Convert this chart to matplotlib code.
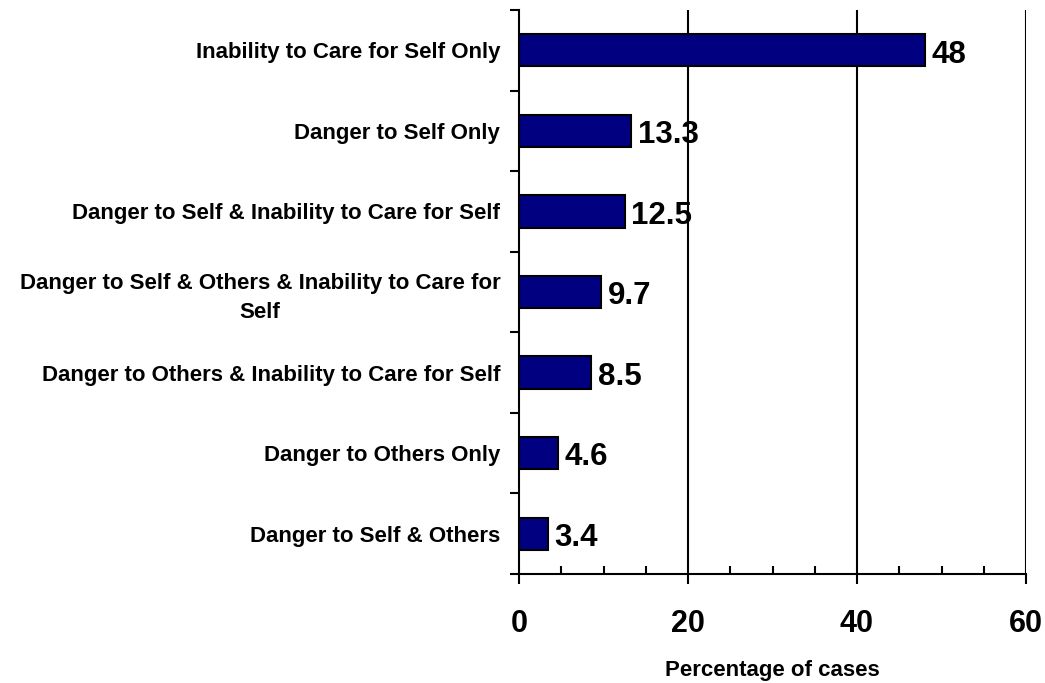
import matplotlib
matplotlib.use("Agg")
import matplotlib.pyplot as plt
import numpy as np

categories = [
    "Inability to Care for Self Only",
    "Danger to Self Only",
    "Danger to Self & Inability to Care for Self",
    "Danger to Self & Others & Inability to Care for\nSelf",
    "Danger to Others & Inability to Care for Self",
    "Danger to Others Only",
    "Danger to Self & Others",
]
values = [48, 13.3, 12.5, 9.7, 8.5, 4.6, 3.4]
value_labels = ["48", "13.3", "12.5", "9.7", "8.5", "4.6", "3.4"]
x_ticks = [0, 20, 40, 60]

plt.rcParams['font.family'] = ['Liberation Sans', 'DejaVu Sans']

fig = plt.figure(figsize=(10.45, 6.83), dpi=100)
ax = fig.add_axes([519/1045, 1-574/683, (1026-519)/1045, (574-10)/683])

n = len(categories)
ypos = np.arange(n)[::-1]

for g in x_ticks[1:]:
    ax.axvline(g, color='black', lw=1.5, zorder=1)

ax.barh(ypos, values, height=0.4, color='#000080', edgecolor='black', lw=1.5, zorder=2)

for y, v, t in zip(ypos, values, value_labels):
    ax.text(v + 0.8, y - 0.01, t, va='center_baseline', ha='left', fontsize=22.5,
            fontweight='bold', zorder=3)

ax.set_xlim(0, 60)
ax.set_ylim(-0.5, n - 0.5)

ax.set_yticks(ypos)
ax.set_yticklabels(categories, fontsize=16, fontweight='bold',
                   multialignment='center', linespacing=1.5)
ax.tick_params(axis='y', which='major', length=0, pad=13.5)
ax.set_yticks(np.arange(-0.5, n, 1.0), minor=True)
ax.tick_params(axis='y', which='minor', length=6.5, width=1.5, direction='out')

ax.set_xticks(x_ticks)
ax.set_xticklabels([str(t) for t in x_ticks], fontsize=22, fontweight='bold')
ax.set_xticks(np.arange(0, 61, 5), minor=True)
ax.tick_params(axis='x', which='major', length=7.2, width=1.5, direction='out', pad=18)
ax.tick_params(axis='x', which='minor', length=5.8, width=1.5, direction='in')

ax.set_xlabel("Percentage of cases", fontsize=16, fontweight='bold', labelpad=15)

for s in ['top', 'right']:
    ax.spines[s].set_visible(False)
ax.spines['left'].set_linewidth(1.5)
ax.spines['bottom'].set_linewidth(1.5)

fig.savefig("out.png", dpi=100)
